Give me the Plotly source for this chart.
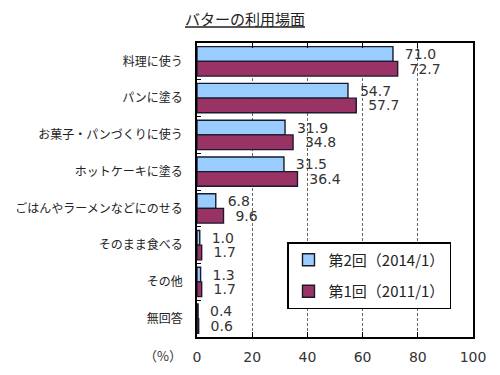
import plotly.graph_objects as go

categories = ["料理に使う", "パンに塗る", "お菓子・パンづくりに使う", "ホットケーキに塗る",
              "ごはんやラーメンなどにのせる", "そのまま食べる", "その他", "無回答"]
series2_name = "第2回（2014/1）"
series1_name = "第1回（2011/1）"
series2 = [71.0, 54.7, 31.9, 31.5, 6.8, 1.0, 1.3, 0.4]
series1 = [72.7, 57.7, 34.8, 36.4, 9.6, 1.7, 1.7, 0.6]
x_ticks = [0, 20, 40, 60, 80, 100]

num_font = dict(family="DejaVu Sans", size=14, color="#333333")
jp_font = "Noto Sans CJK JP"

# page body has an 8px default margin; layout is shifted to compensate
OFF = 8

fig = go.Figure()
fig.add_trace(go.Bar(
    y=categories, x=series2, orientation="h", name=series2_name,
    marker=dict(color="#99CCFF", line=dict(color="#1a1a2a", width=1.4)),
    text=["  " + f"{v:.1f}" for v in series2], textposition="outside",
    textfont=num_font, constraintext="none", cliponaxis=False,
    legendgroup="a",
))
fig.add_trace(go.Bar(
    y=categories, x=series1, orientation="h", name=series1_name,
    marker=dict(color="#993366", line=dict(color="#1a1a2a", width=1.4)),
    text=["  " + f"{v:.1f}" for v in series1], textposition="outside",
    textfont=num_font, constraintext="none", cliponaxis=False,
    legendgroup="b",
))

fig.update_layout(
    width=500, height=375,
    margin=dict(l=197 - OFF, r=500 - (473 - OFF), t=43 - OFF, b=375 - (337 - OFF),
                autoexpand=False),
    paper_bgcolor="white", plot_bgcolor="white",
    barmode="group", bargap=0.2, bargroupgap=0.0,
    title=dict(text="<u>バターの利用場面</u>", x=(245 - OFF) / 500, xanchor="center",
               y=1 - (20 - OFF) / 375, yanchor="middle",
               font=dict(family=jp_font, size=15, color="#222222")),
    xaxis=dict(range=[0, 100], tickvals=x_ticks, showgrid=True,
               gridcolor="#666666", griddash="3px,2px", gridwidth=1,
               showline=True, linecolor="black", linewidth=1.5, mirror="ticks",
               ticks="inside", ticklen=5, tickcolor="black",
               tickfont=num_font, zeroline=False, fixedrange=True,
               automargin=False, ticklabelstandoff=6),
    yaxis=dict(autorange="reversed", showline=True, linecolor="black",
               linewidth=1.5, mirror=True, ticks="inside", tickson="boundaries",
               ticklen=4, tickcolor="black",
               tickfont=dict(family=jp_font, size=12, color="#222222"),
               ticklabelstandoff=10, showgrid=False, automargin=False),
    legend=dict(x=(287 - 197) / 276, y=(337 - 242) / 294, xanchor="left", yanchor="top",
                bordercolor="black", borderwidth=1.5, bgcolor="white",
                font=dict(family=jp_font, size=15, color="#222222"),
                tracegroupgap=9, itemwidth=30, traceorder="grouped"),
    showlegend=True,
)
fig.add_annotation(text="（%）", xref="paper", yref="paper",
                   x=(163 - 197) / 276, y=-(355 - 337) / 294,
                   xanchor="center", yanchor="middle", showarrow=False,
                   font=dict(family=jp_font, size=13, color="#333333"))

fig.write_html("out.html")
